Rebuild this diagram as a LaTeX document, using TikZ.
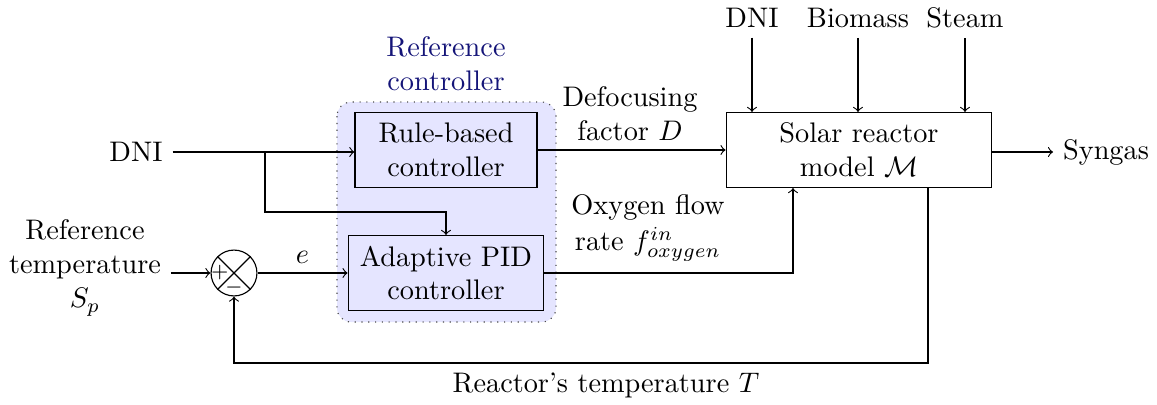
\documentclass[tikz,border=0pt]{standalone}
\usetikzlibrary{positioning}
\definecolor{refnavy}{RGB}{20,20,120}
\begin{document}
\begin{tikzpicture}[x=0.01242cm, y=-0.01242cm,
    block/.style={draw, align=center, minimum height=0.93cm},
    label/.style={align=center},
    sumnode/.style={draw, circle, minimum size=0.57cm, inner sep=0pt}]
    \useasboundingbox (0,0) rectangle (1157,405);
    % Reference controller area
    \draw[dotted, black!70, fill=blue!10, rounded corners=5pt] (337,102) rectangle (556,322);
    \node[label, text=refnavy] (refctrl) at (446,64) {Reference\\controller};

    % Blocks
    \node[block, minimum width=2.26cm] (rule) at (446,150) {Rule-based\\controller};
    \node[block, minimum width=2.43cm] (pid) at (446,273) {Adaptive PID\\controller};
    \node[block, minimum width=3.30cm, fill=white] (solar) at (859,150) {Solar reactor\\model $\mathcal{M}$};
    \node[sumnode] (sum) at (234,273) {};
    \draw (sum.north west) -- (sum.south east);
    \draw (sum.north east) -- (sum.south west);
    \node[font=\scriptsize, inner sep=0pt] (plus) at ([xshift=-5pt]sum.center) {$+$};
    \node[font=\scriptsize, inner sep=0pt] (minus) at ([yshift=-5pt]sum.center) {$-$};

    % Inputs and outputs
    \node (dniin) at (136,152) {DNI};
    \node[label] (reftemp) at (85,268) {Reference\\temperature\\$S_p$};
    \node (syngas) at (1106,152) {Syngas};
    \foreach \name/\x/\txt in {dnitop/752/DNI, biomass/858/Biomass, steam/965/Steam}
    {
        \node (\name) at (\x,18) {\txt};
        \draw[->] (\name.south) -- (\name.south |- solar.north);
    }

    % Connectors
    \coordinate (split) at (265,152);
    \draw[->] (dniin.east) -- (rule.west |- dniin.east);
    \draw[->] (split) |- (446,212) -- (pid.north);
    \draw[->] (reftemp.east |- sum.west) -- (sum.west);
    \draw[->] (sum.east) -- node[above] (err) {$e$} (pid.west);
    \draw[->] (rule.east) -- (solar.west);
    \draw[->] (pid.east) -| (793,188);
    \draw[->] (solar.east |- syngas.west) -- (syngas.west);
    \draw[->] (928,188) |- (234,363) -- (sum.south);

    % Signal labels
    \node[label] (defocus) at (630,114) {Defocusing\\factor $D$};
    \node[label] (oxygen) at (648,228) {Oxygen flow\\[1pt]rate $f_{oxygen}^{in}$};
    \node (feedback) at (606,385) {Reactor's temperature $T$};
\end{tikzpicture}
\end{document}
